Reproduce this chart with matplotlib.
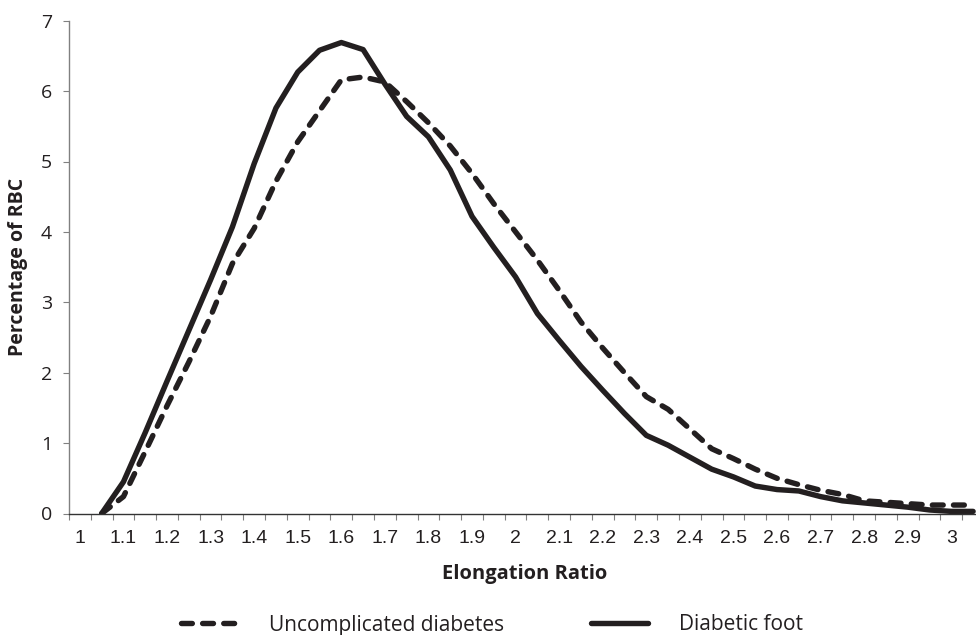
import matplotlib
matplotlib.use('Agg')
import matplotlib.pyplot as plt
import numpy as np

# elongation ratio categories (every 0.05), data starts at 1.05
ratio = [1.05, 1.10, 1.15, 1.20, 1.25, 1.30, 1.35, 1.40, 1.45, 1.50,
         1.55, 1.60, 1.65, 1.70, 1.75, 1.80, 1.85, 1.90, 1.95, 2.00,
         2.05, 2.10, 2.15, 2.20, 2.25, 2.30, 2.35, 2.40, 2.45, 2.50,
         2.55, 2.60, 2.65, 2.70, 2.75, 2.80, 2.85, 2.90, 2.95, 3.00, 3.05]

uncomplicated = [0.0, 0.24, 0.88, 1.53, 2.15, 2.8, 3.55, 4.05, 4.72, 5.28,
                 5.72, 6.16, 6.2, 6.13, 5.85, 5.55, 5.22, 4.83, 4.4, 4.0,
                 3.6, 3.17, 2.72, 2.35, 2.0, 1.66, 1.48, 1.2, 0.92, 0.78,
                 0.63, 0.5, 0.41, 0.33, 0.27, 0.18, 0.16, 0.14, 0.12, 0.12, 0.12]

diabetic_foot = [0.0, 0.45, 1.15, 1.88, 2.6, 3.32, 4.07, 4.97, 5.76, 6.27,
                 6.58, 6.69, 6.59, 6.1, 5.64, 5.35, 4.88, 4.22, 3.78, 3.36,
                 2.84, 2.46, 2.09, 1.75, 1.42, 1.11, 0.97, 0.8, 0.63, 0.52,
                 0.39, 0.34, 0.32, 0.24, 0.18, 0.15, 0.12, 0.09, 0.05, 0.03, 0.03]

tick_labels = ['1', '1.1', '1.2', '1.3', '1.4', '1.5', '1.6', '1.7', '1.8', '1.9', '2',
               '2.1', '2.2', '2.3', '2.4', '2.5', '2.6', '2.7', '2.8', '2.9', '3']

line_col = '#231f20'

fig = plt.figure(figsize=(9.76, 6.35), dpi=100)
# axes runs a little past the right edge, like the cropped original
ax = fig.add_axes([69 / 976, 121.5 / 635, 915 / 976, 492.8 / 635])

ax.plot(ratio, uncomplicated, color=line_col, lw=3.9, dashes=(2.0, 1.9),
        dash_capstyle='round', solid_capstyle='round',
        label='Uncomplicated diabetes')
ax.plot(ratio, diabetic_foot, color=line_col, lw=3.9, solid_capstyle='round',
        solid_joinstyle='round', label='Diabetic foot')

ax.set_xlim(0.975, 3.075)
ax.set_ylim(0, 7)

# category style axis: labels at centres, tick marks at category edges
ax.set_xticks(np.arange(1.0, 3.001, 0.1))
ax.set_xticklabels(tick_labels, family='Liberation Sans', fontsize=14)
ax.set_xticks(np.arange(0.975, 3.08, 0.05), minor=True)
ax.tick_params(axis='x', which='major', length=0, pad=12)
ax.tick_params(axis='x', which='minor', length=4.5, width=0.8, color='#808080',
               direction='out')
ax.set_yticks(range(0, 8))
ax.tick_params(axis='y', length=4.3, width=0.8, color='#808080', pad=8,
               labelsize=14)
for lab in ax.get_yticklabels():
    lab.set_family('Open Sans')
    lab.set_color('#231f20')
for lab in ax.get_xticklabels():
    lab.set_color('#231f20')

for s in ['top', 'right']:
    ax.spines[s].set_visible(False)
ax.spines['left'].set_color('#808080')
ax.spines['left'].set_linewidth(1.0)
ax.spines['bottom'].set_color('#333333')
ax.spines['bottom'].set_linewidth(1.0)

ax.set_xlabel('Elongation Ratio', family='Open Sans', fontweight='bold',
              fontsize=14.5, color='#231f20')
ax.xaxis.set_label_coords((525 - 69) / 915, -(564 - 513.5) / 492.8)
ax.set_ylabel('Percentage of RBC', family='Open Sans', fontweight='bold',
              fontsize=14, color='#231f20')
ax.yaxis.set_label_coords(-(69 - 28) / 915, (513.5 - 267) / 492.8)

leg = fig.legend(loc='center', bbox_to_anchor=(492 / 976, 10 / 635), ncol=2,
                 frameon=False, handlelength=2.7, handletextpad=1.5,
                 columnspacing=4.2, prop={'family': 'Open Sans', 'size': 15})
for t in leg.get_texts():
    t.set_color('#231f20')

fig.savefig('out.png', dpi=100)
